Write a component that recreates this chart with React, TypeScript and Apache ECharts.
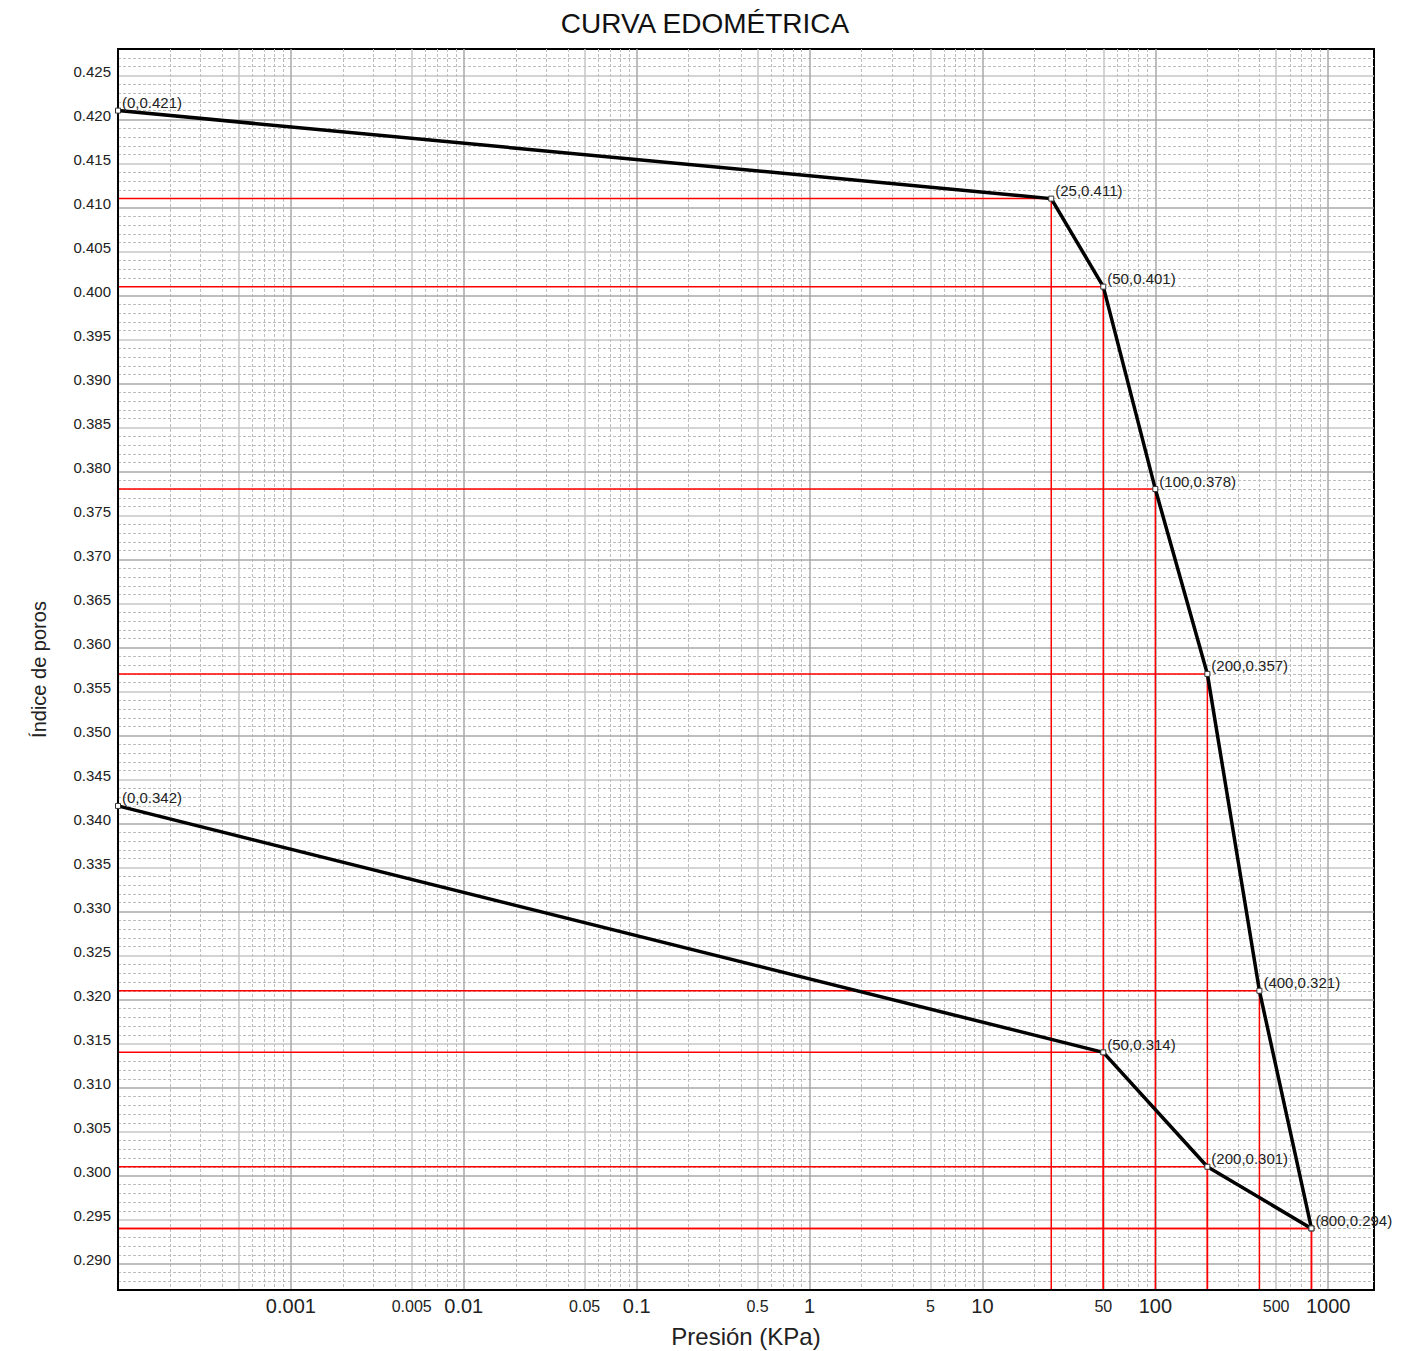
import React, { useEffect, useRef } from 'react';
import * as echarts from 'echarts';

const TITLE = 'CURVA EDOMÉTRICA';
const X_NAME = 'Presión (KPa)';
const Y_NAME = 'Índice de poros';

// Loading branch (pressure in kPa, void ratio)
const loadPressure = [0, 25, 50, 100, 200, 400, 800];
const loadVoid = [0.421, 0.411, 0.401, 0.378, 0.357, 0.321, 0.294];
// Unloading branch
const unloadPressure = [800, 200, 50, 0];
const unloadVoid = [0.294, 0.301, 0.314, 0.342];

// Axis extents
const X_MIN = 0.0001;
const X_MAX = 1840;
const Y_MIN = 0.287;
const Y_MAX = 0.428;

// Tick labels
const xDecadeLabels = [0.001, 0.01, 0.1, 1, 10, 100, 1000];
const xHalfLabels = [0.005, 0.05, 0.5, 5, 50, 500];
const xLabelValues = [0.001, 0.005, 0.01, 0.05, 0.1, 0.5, 1, 5, 10, 50, 100, 500, 1000];
const yTickLabels = [
  0.29, 0.295, 0.3, 0.305, 0.31, 0.315, 0.32, 0.325, 0.33, 0.335, 0.34, 0.345, 0.35, 0.355,
  0.36, 0.365, 0.37, 0.375, 0.38, 0.385, 0.39, 0.395, 0.4, 0.405, 0.41, 0.415, 0.42, 0.425,
];

// Grid line positions
const xHalfLines = [0.0005, ...xHalfLabels];
const xMinorMultipliers = [2, 3, 4, 6, 7, 8, 9];
const xGridDecades = [0.0001, 0.001, 0.01, 0.1, 1, 10, 100, 1000];
const yMajorLines = [0.29, 0.3, 0.31, 0.32, 0.33, 0.34, 0.35, 0.36, 0.37, 0.38, 0.39, 0.4, 0.41, 0.42];
const yHalfLines = [0.295, 0.305, 0.315, 0.325, 0.335, 0.345, 0.355, 0.365, 0.375, 0.385, 0.395, 0.405, 0.415, 0.425];

const xMinorLines: number[] = [];
xGridDecades.forEach((d) => {
  xMinorMultipliers.forEach((m) => {
    const v = m * d;
    if (v < X_MAX) xMinorLines.push(v);
  });
});
const yMinorLines: number[] = [];
for (let i = 288; i <= 427; i++) {
  if (i % 5 !== 0) yMinorLines.push(i / 1000);
}

const FONT = "'Liberation Sans', Arial, Helvetica, sans-serif";
const TEXT = '#222';

const plotX = (p: number) => (p === 0 ? X_MIN : p);

function App() {
  const ref = useRef<HTMLDivElement>(null);

  useEffect(() => {
    if (!ref.current) return;
    const chart = echarts.init(ref.current, undefined, { renderer: 'svg' });

    const loadData = loadPressure.map((p, i) => [plotX(p), loadVoid[i]]);
    const unloadData = unloadPressure.map((p, i) => {
      const item: any = { value: [plotX(p), unloadVoid[i]] };
      if (i === 0) item.label = { show: false };
      return item;
    });
    const guideData = [
      ...loadPressure.map((p, i) => [plotX(p), loadVoid[i]]),
      ...unloadPressure.map((p, i) => [plotX(p), unloadVoid[i]]),
    ];

    const baseX = {
      type: 'log',
      min: X_MIN,
      max: X_MAX,
      position: 'bottom',
      logBase: 10,
      axisLine: { show: false },
      axisTick: { show: false },
      axisLabel: { show: false },
      minorTick: { show: false },
      minorSplitLine: { show: false },
    };
    const baseY = {
      type: 'value',
      min: Y_MIN,
      max: Y_MAX,
      position: 'left',
      axisLine: { show: false },
      axisTick: { show: false },
      axisLabel: { show: false },
    };

    const seriesLabel = (pressures: number[], voids: number[]) => ({
      show: true,
      position: 'right',
      distance: 1,
      offset: [0, -8],
      fontSize: 15,
      color: TEXT,
      fontFamily: FONT,
      formatter: (params: any) =>
        `(${pressures[params.dataIndex]},${voids[params.dataIndex].toFixed(3)})`,
    });

    chart.setOption({
      animation: false,
      backgroundColor: '#ffffff',
      textStyle: { fontFamily: FONT },
      graphic: [
        {
          type: 'text',
          x: 705,
          y: 23,
          style: {
            text: TITLE,
            fontSize: 28,
            fontFamily: FONT,
            fill: '#111',
            textAlign: 'center',
            textVerticalAlign: 'middle',
          },
        },
      ],
      grid: {
        left: 118,
        right: 47,
        top: 49,
        bottom: 61,
        show: true,
        borderColor: '#000',
        borderWidth: 2,
        backgroundColor: 'transparent',
        containLabel: false,
        outerBoundsMode: 'none',
      },
      xAxis: [
        {
          ...baseX,
          name: X_NAME,
          nameLocation: 'middle',
          nameGap: 34,
          nameTextStyle: { fontSize: 24, color: TEXT, fontFamily: FONT },
          axisLine: { show: true, lineStyle: { color: '#000', width: 2 } },
          axisTick: { show: false, customValues: xDecadeLabels },
          axisLabel: {
            show: true,
            customValues: xLabelValues,
            margin: 6,
            color: TEXT,
            fontFamily: FONT,
            formatter: (v: number) => {
              const l = Math.log10(v);
              return Math.abs(l - Math.round(l)) < 1e-9 ? `{big|${v}}` : `{small|${v}}`;
            },
            rich: {
              big: { fontSize: 20, lineHeight: 20, color: TEXT, fontFamily: FONT },
              small: { fontSize: 16, lineHeight: 20, color: TEXT, fontFamily: FONT },
            },
          },
          splitLine: { show: true, lineStyle: { color: '#a8a8a8', width: 1.5 } },
          z: 1,
        },
        {
          ...baseX,
          axisTick: { show: false, customValues: xHalfLines },
          splitLine: { show: true, lineStyle: { color: '#c6c6c6', width: 1.5 } },
          z: 0,
        },
        {
          ...baseX,
          axisTick: { show: false, customValues: xMinorLines },
          splitLine: { show: true, lineStyle: { color: '#bdbdbd', width: 1, type: [3, 2] } },
          z: 0,
        },
      ],
      yAxis: [
        {
          ...baseY,
          name: Y_NAME,
          nameLocation: 'middle',
          nameGap: 69,
          nameTextStyle: { fontSize: 20, color: TEXT, fontFamily: FONT },
          axisLine: { show: true, lineStyle: { color: '#000', width: 2 } },
          axisTick: { show: false, customValues: yMajorLines },
          axisLabel: {
            show: true,
            customValues: yTickLabels,
            formatter: (v: number) => v.toFixed(3),
            fontSize: 15,
            lineHeight: 8,
            verticalAlign: 'bottom',
            color: TEXT,
            fontFamily: FONT,
            margin: 7,
          },
          splitLine: { show: true, lineStyle: { color: '#a8a8a8', width: 1.5 } },
          z: 1,
        },
        {
          ...baseY,
          axisTick: { show: false, customValues: yHalfLines },
          splitLine: { show: true, lineStyle: { color: '#c6c6c6', width: 1.5 } },
          z: 0,
        },
        {
          ...baseY,
          axisTick: { show: false, customValues: yMinorLines },
          splitLine: { show: true, lineStyle: { color: '#bdbdbd', width: 1, type: [3, 2] } },
          z: 0,
        },
      ],
      series: [
        {
          type: 'custom',
          name: 'guides',
          xAxisIndex: 0,
          yAxisIndex: 0,
          z: 1,
          silent: true,
          data: guideData,
          renderItem: (params: any, api: any) => {
            const x = api.value(0);
            const y = api.value(1);
            const p = api.coord([x, y]);
            const l = api.coord([X_MIN, y]);
            const b = api.coord([x, Y_MIN]);
            const style = { stroke: '#ff0000', lineWidth: 1.5 };
            return {
              type: 'group',
              children: [
                { type: 'line', shape: { x1: l[0], y1: l[1], x2: p[0], y2: p[1] }, style },
                { type: 'line', shape: { x1: p[0], y1: p[1], x2: b[0], y2: b[1] }, style },
              ],
            };
          },
        },
        {
          type: 'line',
          name: 'Carga',
          xAxisIndex: 0,
          yAxisIndex: 0,
          z: 3,
          clip: false,
          data: loadData,
          symbol: 'rect',
          symbolSize: 5,
          showAllSymbol: true,
          lineStyle: { color: '#000', width: 3.5 },
          itemStyle: { color: '#ffffff', borderColor: '#333', borderWidth: 1 },
          label: seriesLabel(loadPressure, loadVoid),
        },
        {
          type: 'line',
          name: 'Descarga',
          xAxisIndex: 0,
          yAxisIndex: 0,
          z: 3,
          clip: false,
          data: unloadData,
          symbol: 'rect',
          symbolSize: 5,
          showAllSymbol: true,
          lineStyle: { color: '#000', width: 3.5 },
          itemStyle: { color: '#ffffff', borderColor: '#333', borderWidth: 1 },
          label: seriesLabel(unloadPressure, unloadVoid),
        },
      ],
    });

    return () => {
      chart.dispose();
    };
  }, []);

  return (
    <div
      ref={ref}
      style={{ position: 'absolute', left: 0, top: 0, width: '1421px', height: '1351px', background: '#fff' }}
    />
  );
}

export default App;
